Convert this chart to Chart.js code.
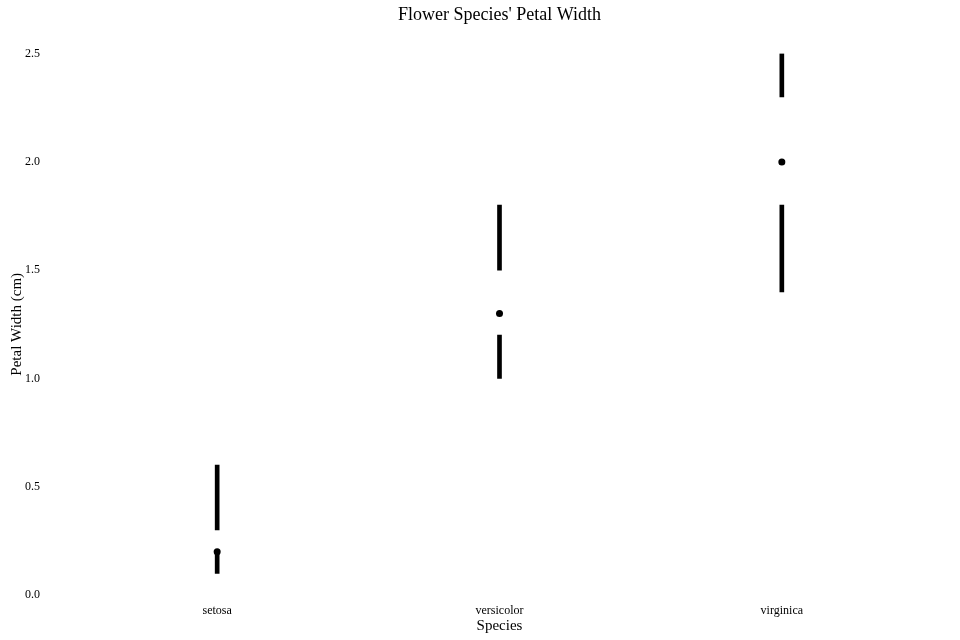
<!DOCTYPE html>
<html>
<head>
<meta charset="utf-8">
<script src="https://cdn.jsdelivr.net/npm/chart.js@4/dist/chart.umd.min.js"></script>
<style>
html,body{margin:0;padding:0;background:#fff;}
#wrap{width:960px;height:640px;}
</style>
</head>
<body>
<div id="wrap"><canvas id="c" width="960" height="640"></canvas></div>
<script>
const species = ['setosa', 'versicolor', 'virginica'];
const minVals = [0.1, 1.0, 1.4];
const q1Vals = [0.2, 1.2, 1.8];
const medianVals = [0.2, 1.3, 2.0];
const q3Vals = [0.3, 1.5, 2.3];
const maxVals = [0.6, 1.8, 2.5];
const yTicks = [0.0, 0.5, 1.0, 1.5, 2.0, 2.5];

const lowerWhisker = species.map((s, i) => [minVals[i], q1Vals[i]]);
const upperWhisker = species.map((s, i) => [q3Vals[i], maxVals[i]]);

const serif = "'Liberation Serif', 'DejaVu Serif', serif";

new Chart(document.getElementById('c'), {
  type: 'bar',
  data: {
    labels: species,
    datasets: [
      {
        type: 'line',
        label: 'median',
        data: medianVals,
        showLine: false,
        pointRadius: 3.5,
        pointHoverRadius: 3.5,
        pointBackgroundColor: '#000',
        pointBorderWidth: 0,
        borderColor: '#000',
        order: 0
      },
      {
        label: 'lower',
        data: lowerWhisker,
        backgroundColor: '#000',
        barThickness: 4,
        grouped: false,
        borderSkipped: false,
        order: 1
      },
      {
        label: 'upper',
        data: upperWhisker,
        backgroundColor: '#000',
        barThickness: 4,
        grouped: false,
        borderSkipped: false,
        order: 1
      }
    ]
  },
  options: {
    responsive: false,
    animation: false,
    layout: { padding: { left: 0, right: 37, top: 0, bottom: 0 } },
    plugins: {
      legend: { display: false },
      tooltip: { enabled: false },
      title: {
        display: true,
        fullSize: false,
        text: "Flower Species' Petal Width",
        color: '#000',
        font: { family: serif, size: 18, weight: 'normal' },
        padding: { top: 4, bottom: 28 }
      }
    },
    scales: {
      x: {
        offset: true,
        grid: { display: false, drawTicks: false },
        border: { display: false },
        ticks: { color: '#000', font: { family: serif, size: 12 }, padding: 9 },
        title: {
          display: true,
          text: 'Species',
          color: '#000',
          font: { family: serif, size: 15 },
          padding: { top: 0, bottom: 5 }
        },
        afterFit: (s) => { s.height = 45; }
      },
      y: {
        min: 0,
        max: 2.5,
        afterBuildTicks: (s) => { s.ticks = yTicks.map(v => ({ value: v })); },
        grid: { display: false, drawTicks: false },
        border: { display: false },
        ticks: {
          color: '#000',
          font: { family: serif, size: 12 },
          crossAlign: 'near',
          padding: 36,
          callback: (v) => Number(v).toFixed(1)
        },
        title: {
          display: true,
          text: 'Petal Width (cm)',
          color: '#000',
          font: { family: serif, size: 15 },
          padding: { top: 8, bottom: 0 }
        },
        afterFit: (s) => { s.width = 76; }
      }
    }
  }
});
</script>
</body>
</html>
